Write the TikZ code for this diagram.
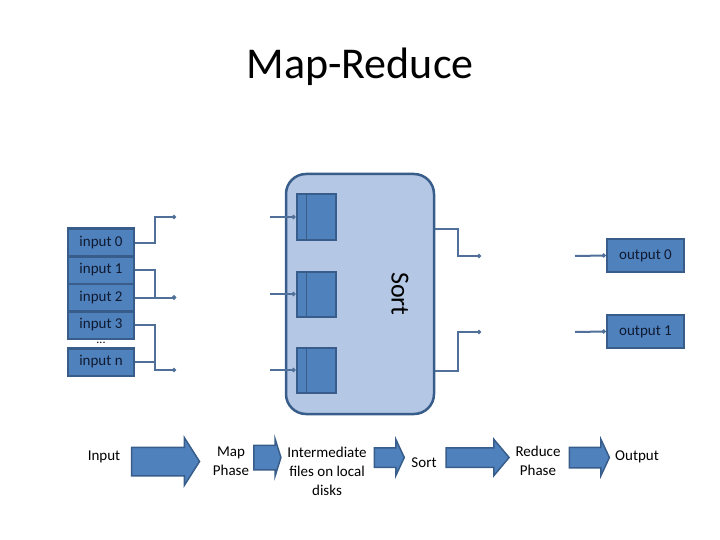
\documentclass[tikz,border=0pt]{standalone}
\usepackage{fontspec}
\setmainfont{Carlito}
\usepackage{tikz}
\usetikzlibrary{arrows.meta,positioning,shapes.arrows,calc}
\usepackage{xcolor}
\definecolor{boxblue}{HTML}{4F81BD}
\definecolor{edgeblue}{HTML}{385D8A}
\definecolor{sortfill}{HTML}{B4C7E4}
\definecolor{wireblue}{HTML}{50709A}
\definecolor{boxtext}{HTML}{0F1A30}

\begin{document}
\begin{tikzpicture}[
  x=1pt, y=-1pt,
  inbox/.style={draw=edgeblue, line width=2.5pt, fill=boxblue, minimum width=66pt, minimum height=27.5pt, inner sep=0pt, text=boxtext, font=\fontsize{15}{17}\selectfont},
  buf/.style={draw=edgeblue, line width=2pt, fill=boxblue, minimum width=39pt, minimum height=45pt, inner sep=0pt},
  wire/.style={draw=wireblue, line width=2pt},
  dot/.style={wire, -{Circle[length=4pt]}},
  flow/.style={single arrow, draw=edgeblue, line width=1.5pt, fill=boxblue, inner sep=0pt, text height=0pt, text depth=0pt},
  lbl/.style={align=center, font=\fontsize{15}{19}\selectfont},
]
  \useasboundingbox (0,0) rectangle (720,540);

  \node[font=\fontsize{44}{52}\selectfont] (title) at (360,67) {Map-Reduce};

  % inputs
  \node[inbox] (in0) at (101,242.5) {input 0};
  \node[inbox, below=-2.5pt of in0] (in1) {input 1};
  \node[inbox, below=-2.5pt of in1] (in2) {input 2};
  \node[inbox, below=-2.5pt of in2] (in3) {input 3};
  \node[font=\fontsize{12}{14}\selectfont, inner sep=0pt] (dots) at (101,343) {...};
  \node[inbox] (inn) at (101,362) {input n};

  % sort block
  \node[draw=edgeblue, line width=2.5pt, fill=sortfill, rounded corners=20pt, minimum width=148pt, minimum height=240pt] (sort) at (360,294) {};
  \node[buf] (buf0) at (316,217) {};
  \node[buf] (buf1) at (316,294) {};
  \node[buf] (buf2) at (316,370) {};
  \foreach \b in {buf0,buf1,buf2}
    \draw[edgeblue, line width=1.5pt] ([xshift=11pt]\b.north west) -- ([xshift=11pt]\b.south west);
  \node[rotate=-90, font=\fontsize{26}{30}\selectfont] (sortlbl) at (400,294) {Sort};

  \coordinate (m0) at (176,217);
  \coordinate (m1) at (in2.east -| 176,0);
  \coordinate (m2) at (176,370);
  \coordinate (s0) at (270,217);
  \coordinate (s1) at (270,294);
  \coordinate (s2) at (270,370);

  \draw[dot] (in0.east) -- ++(20,0) |- (m0);
  \draw[dot] (in1.east) -- ++(20,0) |- (m1);
  \draw[dot] (in2.east) -- (m1);
  \draw[dot] (in3.east) -- ++(20,0) |- (m2);
  \draw[wire] (inn.east) -- ++(20,0);

  \draw[dot] (s0) -- (buf0.west);
  \draw[dot] (s1) -- (buf1.west);
  \draw[dot] (s2) -- (buf2.west);

  % outputs
  \node[inbox, minimum width=77pt, minimum height=33pt] (out0) at (645.5,255.5) {output 0};
  \node[inbox, minimum width=77pt, minimum height=33pt] (out1) at (645.5,331.5) {output 1};

  \coordinate (o0) at (481,256);
  \coordinate (o1) at (481,332);
  \coordinate (r0) at (575,256);
  \coordinate (r1) at (575,332);

  \draw[dot] ([yshift=65pt]sort.east) -- ++(23,0) |- (o0);
  \draw[dot] ([yshift=-77pt]sort.east) -- ++(23,0) |- (o1);
  \draw[dot] (r0) -- (out0.west);
  \draw[dot] (r1) -- (out1.west);

  % phases
  \node[lbl] (pin) at (104,457) {Input};
  \node[lbl] (pmap) at (231,461) {Map\\Phase};
  \node[lbl] (pmid) at (327,471) {Intermediate\\files on local\\disks};
  \node[lbl] (psort) at (424,463) {Sort};
  \node[lbl] (pred) at (538,461) {Reduce\\Phase};
  \node[lbl] (pout) at (637,457) {Output};

  \node[flow, minimum height=68pt, inner ysep=13.5pt, single arrow head extend=9.5pt, single arrow tip angle=115] (a1) at (161,461.5) {};
  \node[flow, minimum height=27pt, inner ysep=11.5pt, single arrow head extend=6pt, single arrow tip angle=145] (a2) at (265.5,457.5) {};
  \node[flow, minimum height=30pt, inner ysep=9pt, single arrow head extend=8.5pt, single arrow tip angle=130] (a3) at (387,457.5) {};
  \node[flow, minimum height=63pt, inner ysep=9pt, single arrow head extend=8.5pt, single arrow tip angle=100] (a4) at (473.5,457.5) {};
  \node[flow, minimum height=40pt, inner ysep=9.5pt, single arrow head extend=8pt, single arrow tip angle=130] (a5) at (587,457.5) {};
\end{tikzpicture}
\end{document}
